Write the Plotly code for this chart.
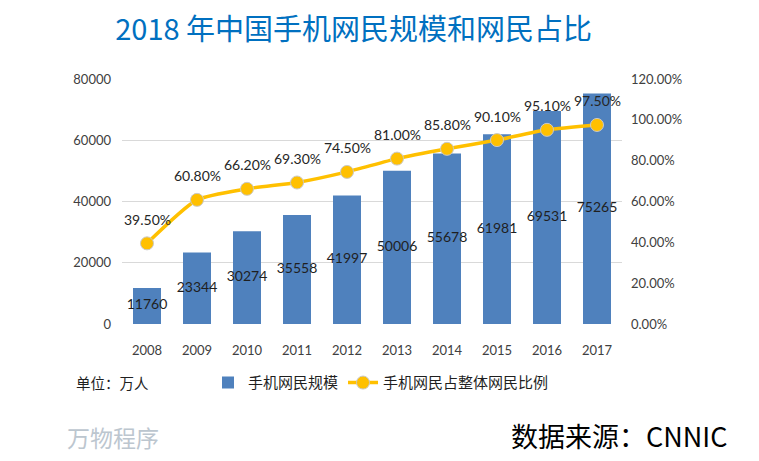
import plotly.graph_objects as go

years = ["2008", "2009", "2010", "2011", "2012", "2013", "2014", "2015", "2016", "2017"]
users = [11760, 23344, 30274, 35558, 41997, 50006, 55678, 61981, 69531, 75265]
share_pct = [39.5, 60.8, 66.2, 69.3, 74.5, 81.0, 85.8, 90.1, 95.1, 97.5]

share = [v / 100 for v in share_pct]
share_labels = [f"{v:.2f}%" for v in share_pct]
user_labels = [str(v) for v in users]

NUM_FONT = "Lato, 'Noto Sans', sans-serif"
CJK_FONT = "'Noto Sans CJK SC', 'Noto Sans', sans-serif"

fig = go.Figure()

fig.add_trace(go.Bar(
    x=years, y=users, name="手机网民规模",
    marker=dict(color="#4F81BD", line=dict(width=0)),
    width=0.56,
))
# bar value labels centred in bars
fig.add_trace(go.Scatter(
    x=years, y=[v / 2 for v in users], mode="text", text=user_labels,
    textfont=dict(family=NUM_FONT, size=14, color="#1F1F1F"),
    showlegend=False, hoverinfo="skip", cliponaxis=False,
))
fig.add_trace(go.Scatter(
    x=years, y=share, name="手机网民占整体网民比例", yaxis="y2",
    mode="lines+markers",
    line=dict(color="#FFC000", width=3.5, shape="spline", smoothing=0.6),
    marker=dict(size=13, color="#FFC000", line=dict(color="#C9C9C9", width=1)),
))

annotations = []
for i, (s, lab) in enumerate(zip(share, share_labels)):
    annotations.append(dict(
        x=i, y=s, xref="x", yref="y2", text=lab, showarrow=False,
        yshift=24, font=dict(family=NUM_FONT, size=14, color="#262626"),
    ))

annotations += [
    dict(text="单位：万人", xref="paper", yref="paper", x=-0.096, y=-0.24,
         xanchor="left", yanchor="middle", showarrow=False,
         font=dict(family=CJK_FONT, size=14.5, color="#1F1F1F")),
    dict(text="数据来源：CNNIC", xref="paper", yref="paper", x=1.214, y=-0.455,
         xanchor="right", yanchor="middle", showarrow=False,
         font=dict(family=CJK_FONT, size=27, color="#000000")),
    dict(text="万物程序", xref="paper", yref="paper", x=-0.114, y=-0.463,
         xanchor="left", yanchor="middle", showarrow=False,
         font=dict(family=CJK_FONT, size=23, color="#BCC6CF")),
]

fig.update_layout(
    width=759, height=461,
    paper_bgcolor="white", plot_bgcolor="white",
    margin=dict(l=122, r=137, t=79, b=137),
    title=dict(text="2018 年中国手机网民规模和网民占比", x=0.466, y=0.935,
               xanchor="center", yanchor="middle",
               font=dict(family=CJK_FONT, size=29, color="#0070C0")),
    showlegend=True,
    legend=dict(orientation="h", x=0.172, y=-0.24, xanchor="left", yanchor="middle",
                font=dict(family=CJK_FONT, size=15, color="#1F1F1F"),
                bgcolor="rgba(0,0,0,0)", itemwidth=30, tracegroupgap=0),
    xaxis=dict(type="category", range=[-0.5, 9.5], showgrid=False,
               showline=False, zeroline=False,
               ticks="outside", ticklen=14, tickcolor="rgba(0,0,0,0)",
               tickfont=dict(family=NUM_FONT, size=13, color="#404040")),
    yaxis=dict(range=[0, 80000], dtick=20000, showgrid=True, gridcolor="#D9D9D9",
               gridwidth=1, zeroline=False, showline=False, tickformat="d",
               ticklabelstandoff=10,
               tickfont=dict(family=NUM_FONT, size=13, color="#404040")),
    yaxis2=dict(range=[0, 1.2], dtick=0.2, overlaying="y", side="right",
                showgrid=False, zeroline=False, showline=False, tickformat=".2%",
                ticklabelstandoff=8,
                tickfont=dict(family=NUM_FONT, size=13, color="#404040")),
    annotations=annotations,
    bargap=0.44,
)

fig.write_html("out.html", config={"displayModeBar": False},
               post_script="document.body.style.margin='0';document.body.style.overflow='hidden';")
